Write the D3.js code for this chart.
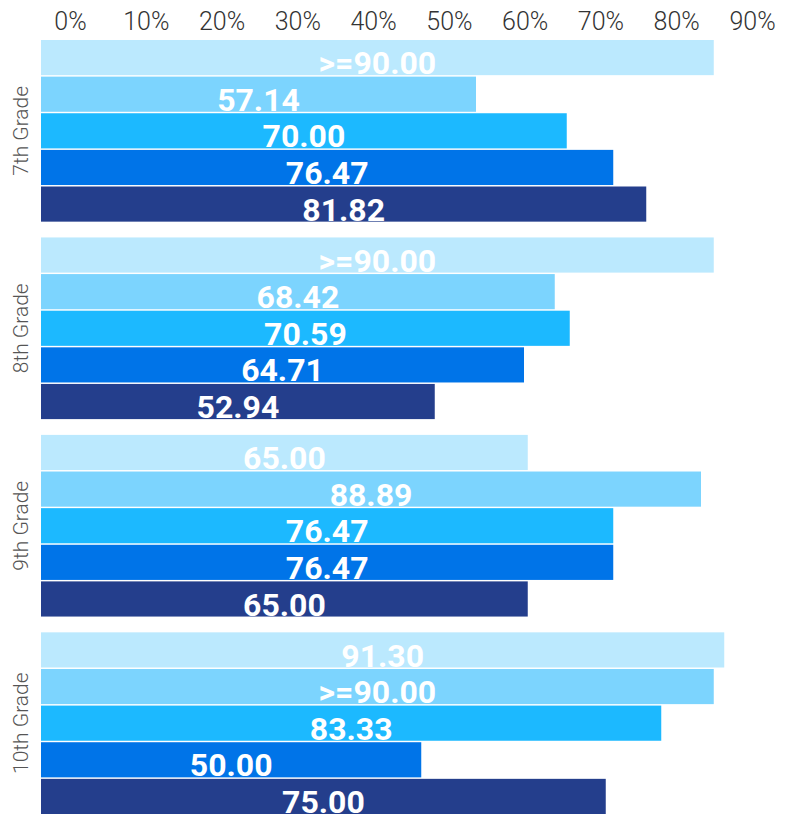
<!DOCTYPE html>
<html>
<head>
<meta charset="utf-8">
<script src="https://cdn.jsdelivr.net/npm/d3@7"></script>
<style>
  html, body { margin: 0; padding: 0; background: #fff; }
  svg { display: block; }
</style>
</head>
<body>
<svg id="chart" width="790" height="814"></svg>
<script>
// ---- data ----
const grades = ["7th Grade", "8th Grade", "9th Grade", "10th Grade"];
const tickValues = [0, 10, 20, 30, 40, 50, 60, 70, 80, 90];
const tickLabels = ["0%", "10%", "20%", "30%", "40%", "50%", "60%", "70%", "80%", "90%"];

// bar lengths (percent) per grade, five bars each
const values7th  = [89.7, 58.0, 70.1, 76.3, 80.7];
const values8th  = [89.7, 68.5, 70.5, 64.4, 52.5];
const values9th  = [64.9, 88.0, 76.3, 76.3, 64.9];
const values10th = [91.1, 89.7, 82.7, 50.7, 75.3];

// printed labels per grade
const labels7th  = [">=90.00", "57.14", "70.00", "76.47", "81.82"];
const labels8th  = [">=90.00", "68.42", "70.59", "64.71", "52.94"];
const labels9th  = ["65.00", "88.89", "76.47", "76.47", "65.00"];
const labels10th = ["91.30", ">=90.00", "83.33", "50.00", "75.00"];

const seriesColors = ["#bbe9fe", "#7cd4fe", "#1cb9ff", "#0074e8", "#243e8c"];

// ---- build table ----
const valueRows = [values7th, values8th, values9th, values10th];
const labelRows = [labels7th, labels8th, labels9th, labels10th];
const table = grades.map((g, gi) => ({
  grade: g,
  bars: valueRows[gi].map((v, si) => ({ series: si, value: v, label: labelRows[gi][si] }))
}));

// ---- layout ----
const svg = d3.select("#chart");

const x = d3.scaleLinear().domain([0, 100]).range([41, 791]);
const xAxisScale = d3.scaleLinear().domain([0, 90]).range([70, 752]);

const y0 = d3.scaleBand().domain(grades).range([40, 814]).paddingInner(0.08).paddingOuter(0);
const y1 = d3.scaleBand().domain(d3.range(5)).range([0, y0.bandwidth()]).paddingInner(0.04);

// ---- top axis labels ----
const axis = d3.axisTop(xAxisScale)
  .tickValues(tickValues)
  .tickFormat((d, i) => tickLabels[i])
  .tickSize(0)
  .tickPadding(0);

const axisG = svg.append("g")
  .attr("transform", "translate(0,30)")
  .call(axis);
axisG.select(".domain").remove();
axisG.selectAll("text")
  .attr("y", 0)
  .attr("dy", 0)
  .style("font-family", "Roboto, 'Noto Sans', sans-serif")
  .style("font-size", "25px")
  .style("font-weight", "300")
  .style("fill", "#333");

// ---- groups ----
const groups = svg.append("g").selectAll("g.grade")
  .data(table)
  .join("g")
  .attr("class", "grade")
  .attr("transform", d => `translate(0,${y0(d.grade)})`);

groups.selectAll("rect")
  .data(d => d.bars)
  .join("rect")
  .attr("x", x(0))
  .attr("y", d => y1(d.series))
  .attr("width", d => x(d.value) - x(0))
  .attr("height", y1.bandwidth())
  .attr("fill", d => seriesColors[d.series]);

groups.selectAll("text.val")
  .data(d => d.bars)
  .join("text")
  .attr("class", "val")
  .attr("x", d => (x(0) + x(d.value)) / 2)
  .attr("y", d => y1(d.series) + y1.bandwidth() - 1)
  .attr("text-anchor", "middle")
  .style("font-family", "Roboto, 'Noto Sans', sans-serif")
  .style("font-size", "32px")
  .style("font-weight", "700")
  .style("fill", "#ffffff")
  .text(d => d.label);

// ---- rotated grade labels ----
svg.append("g").selectAll("text.grade-label")
  .data(grades)
  .join("text")
  .attr("class", "grade-label")
  .attr("transform", g => `translate(28,${y0(g) + y0.bandwidth() / 2}) rotate(-90)`)
  .attr("text-anchor", "middle")
  .style("font-family", "Roboto, 'Noto Sans', sans-serif")
  .style("font-size", "21px")
  .style("font-weight", "300")
  .style("fill", "#555")
  .text(g => g);
</script>
</body>
</html>
